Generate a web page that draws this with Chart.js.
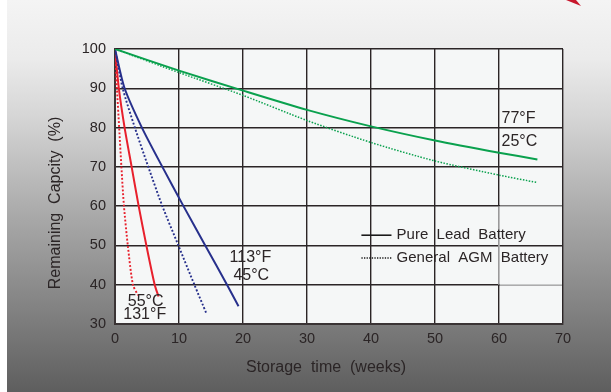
<!DOCTYPE html>
<html>
<head>
<meta charset="utf-8">
<script src="https://cdn.jsdelivr.net/npm/chart.js@4"></script>
<style>
  html, body { margin: 0; padding: 0; background: #fff; }
  #wrap {
    position: relative; width: 611px; height: 392px; overflow: hidden;
  }
  #bg {
    position: absolute; left: 7px; top: 0; right: 0; bottom: 0;
    background: linear-gradient(to bottom, #f4f4f4 0%, #ebebeb 15%, #d5d5d5 30%, #a9a9a9 55%, #808080 80%, #5e5e5e 100%);
  }
  canvas { position: absolute; left: 0; top: 0; }
</style>
</head>
<body>
<div id="wrap">
  <div id="bg"></div>
  <canvas id="chart" width="611" height="392"></canvas>
</div>
<script>
// weeks of storage and remaining capacity (%)
const lead25Weeks = [0, 10, 20, 30, 40, 50, 60, 66];
const lead25Vals  = [100, 94.5, 89.4, 84.5, 80.3, 76.7, 73.6, 71.9];
const agm25Weeks  = [0, 10, 20, 30, 40, 50, 60, 66];
const agm25Vals   = [100, 94, 88.2, 81.8, 76.2, 71.5, 67.9, 66];

const lead45Weeks = [0, 1.5, 4.2, 7.4, 10.7, 14.1, 17.5, 19.3];
const lead45Vals  = [100, 90, 80, 70, 60, 50, 40, 34.5];
const agm45Weeks  = [0, 1.2, 3.1, 5.2, 7.4, 9.9, 12.4, 14.3];
const agm45Vals   = [100, 90, 80, 70, 60, 50, 40, 32.6];

const lead55Weeks = [0, 0.6, 1.5, 2.6, 3.7, 4.9, 6.2, 6.8];
const lead55Vals  = [100, 90, 80, 70, 60, 50, 40, 37];
const agm55Weeks  = [0, 0.3, 0.65, 1.0, 1.4, 2.0, 2.8, 3.6];
const agm55Vals   = [100, 90, 80, 70, 60, 50, 40, 37.3];

const xTicks = [0, 10, 20, 30, 40, 50, 60, 70];
const yTicks = [30, 40, 50, 60, 70, 80, 90, 100];

const GREEN = '#0aa14e';
const BLUE = '#27308c';
const RED = '#e8202c';
const INK = '#2b2526';
const FONT = '"Liberation Sans", Arial, sans-serif';

function pts(xs, ys) {
    return xs.map((x, i) => ({ x: x, y: ys[i] }));
}

function series(xs, ys, color, dash) {
    return {
        data: pts(xs, ys),
        borderColor: color,
        borderWidth: dash ? dash : 2,
        borderDash: dash ? [dash, dash] : [],
        pointRadius: 0,
        fill: false,
        tension: 0.25
    };
}

// paper, odd light grid patch, legend, labels and titles
const decor = {
    id: 'decor',
    beforeDraw(chart) {
        const a = chart.chartArea;
        const c = chart.ctx;
        c.save();
        c.fillStyle = '#f5f7f7';
        c.fillRect(a.left, a.top, a.right - a.left, a.bottom - a.top);
        c.restore();
    },
    beforeDatasetsDraw(chart) {
        const c = chart.ctx;
        const xs = chart.scales.x, ys = chart.scales.y;
        c.save();
        c.strokeStyle = '#c9cbcb';
        c.lineWidth = 1.4;
        c.beginPath();
        c.moveTo(xs.getPixelForValue(60), ys.getPixelForValue(60));
        c.lineTo(xs.getPixelForValue(60), ys.getPixelForValue(40));
        c.moveTo(xs.getPixelForValue(60) + 1, ys.getPixelForValue(60));
        c.lineTo(xs.getPixelForValue(70) - 1, ys.getPixelForValue(60));
        c.moveTo(xs.getPixelForValue(60) + 1, ys.getPixelForValue(40));
        c.lineTo(xs.getPixelForValue(70) - 1, ys.getPixelForValue(40));
        c.stroke();
        c.restore();
    },
    afterDraw(chart) {
        const c = chart.ctx;
        const xs = chart.scales.x, ys = chart.scales.y;
        const px = v => xs.getPixelForValue(v);
        const py = v => ys.getPixelForValue(v);
        c.save();
        c.fillStyle = INK;
        c.textBaseline = 'middle';
        c.textAlign = 'left';

        // legend
        c.strokeStyle = '#1a1a1a';
        c.lineWidth = 1.6;
        c.beginPath();
        c.moveTo(px(38.5), py(52.6));
        c.lineTo(px(43.2), py(52.6));
        c.stroke();
        c.setLineDash([1.3, 1.3]);
        c.lineWidth = 1.3;
        c.beginPath();
        c.moveTo(px(38.5), py(46.8));
        c.lineTo(px(43.3), py(46.8));
        c.stroke();
        c.setLineDash([]);
        c.font = '15px ' + FONT;
        c.fillText('Pure  Lead  Battery', px(44), py(52.6));
        c.fillText('General  AGM  Battery', px(44), py(46.8));

        // temperature labels
        c.font = '16px ' + FONT;
        c.fillText('77°F', px(60.4), py(82.2));
        c.fillText('25°C', px(60.4), py(76.4));
        c.fillText('113°F', px(17.9), py(47.0));
        c.fillText('45°C', px(18.5), py(42.4));
        c.fillText('55°C', px(2.0), py(35.6));
        c.fillText('131°F', px(1.3), py(32.5));

        // axis titles
        c.textAlign = 'center';
        c.font = '16px ' + FONT;
        c.fillText('Storage  time  (weeks)', 326, 368);
        c.translate(56, 203);
        c.rotate(-Math.PI / 2);
        c.fillText('Remaining  Capcity  (%)', 0, 0);
        c.restore();

        // red corner mark
        c.save();
        c.fillStyle = '#c8162c';
        c.beginPath();
        c.moveTo(566, 0);
        c.lineTo(576, 0);
        c.lineTo(581, 6);
        c.closePath();
        c.fill();
        c.restore();
    }
};

const gridStyle = {
    color: '#2b2526',
    lineWidth: 1.4,
    drawTicks: false
};

new Chart(document.getElementById('chart').getContext('2d'), {
    type: 'line',
    data: {
        datasets: [
            series(lead25Weeks, lead25Vals, GREEN, 0),
            series(agm25Weeks, agm25Vals, GREEN, 1.5),
            series(lead45Weeks, lead45Vals, BLUE, 0),
            series(agm45Weeks, agm45Vals, BLUE, 1.9),
            series(lead55Weeks, lead55Vals, RED, 0),
            series(agm55Weeks, agm55Vals, RED, 1.9)
        ]
    },
    options: {
        responsive: false,
        animation: false,
        devicePixelRatio: 1,
        layout: { padding: { top: 49, right: 48, left: 0, bottom: 0 } },
        plugins: {
            legend: { display: false },
            tooltip: { enabled: false }
        },
        scales: {
            x: {
                type: 'linear',
                min: 0,
                max: 70,
                afterBuildTicks: s => { s.ticks = xTicks.map(v => ({ value: v })); },
                afterFit: s => { s.height = 68; },
                grid: gridStyle,
                border: { color: '#3a3435', width: 2 },
                ticks: {
                    color: INK,
                    padding: 6,
                    font: { family: FONT, size: 14.5 },
                    maxRotation: 0
                }
            },
            y: {
                min: 30,
                max: 100,
                afterBuildTicks: s => { s.ticks = yTicks.map(v => ({ value: v })); },
                afterFit: s => { s.width = 115; },
                grid: gridStyle,
                border: { color: '#3a3435', width: 2 },
                ticks: {
                    color: INK,
                    padding: 9,
                    font: { family: FONT, size: 14.5 }
                }
            }
        }
    },
    plugins: [decor]
});
</script>
</body>
</html>
